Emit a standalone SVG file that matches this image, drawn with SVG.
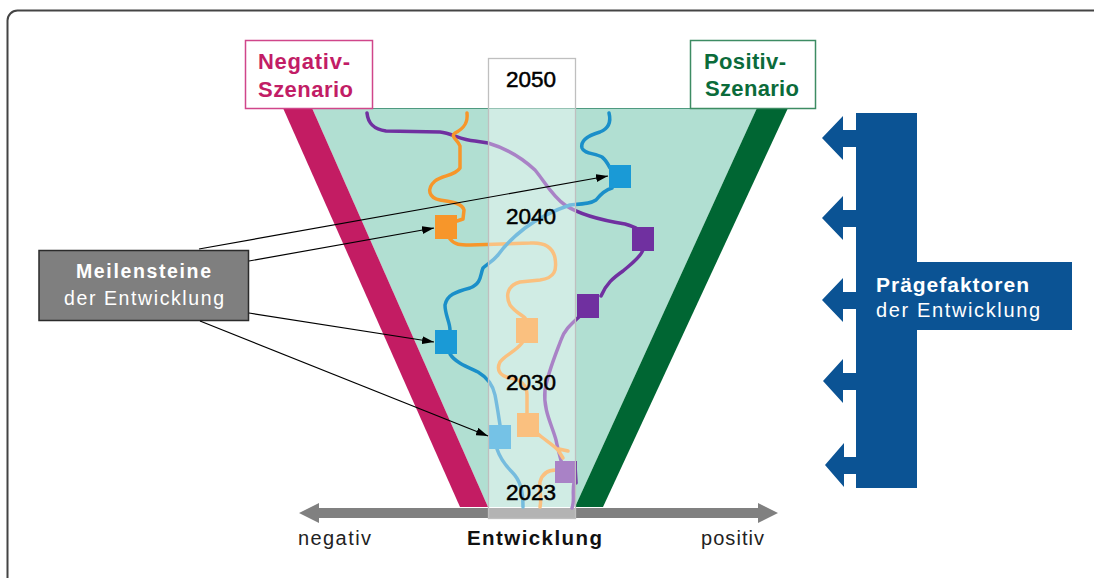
<svg xmlns="http://www.w3.org/2000/svg" width="1094" height="578" viewBox="0 0 1094 578">
<defs>
<marker id="ah" viewBox="0 0 12 8" refX="12" refY="4" markerWidth="12" markerHeight="8" markerUnits="userSpaceOnUse" orient="auto">
<path d="M0,0 L12,4 L0,8 Z" fill="#000"/>
</marker>
<style>
text{font-family:"Liberation Sans",Arial,sans-serif}
.path{fill:none;stroke-width:3.5;stroke-linejoin:round;stroke-linecap:round}
.pu{stroke:#7030a0}.or{stroke:#f7962a}.bl{stroke:#1a8fc9}
.yr{font-size:22.5px;fill:#000;stroke:#000;stroke-width:0.5;text-anchor:middle}
.conn{stroke:#000;stroke-width:1.2;fill:none;marker-end:url(#ah)}
.wb{font-weight:bold;fill:#fff;font-size:19.5px}
.wr{fill:#fff;font-size:19.5px}
.pa{fill:#0b5394}
</style>
</defs>
<rect width="1094" height="578" fill="#fff"/>
<rect x="7.5" y="10.5" width="1100" height="590" rx="10" fill="none" stroke="#444" stroke-width="2"/>

<g id="funnel">
<polygon points="312,108 757,108 575,507 488,507" fill="#b1dfd2"/>
<line x1="312" y1="108.5" x2="757" y2="108.5" stroke="#4f9a80" stroke-width="1.2"/>
<polygon points="283,108 312,108 488,507 460,507" fill="#c31c63"/>
<polygon points="757,108 788,108 603,507 575,507" fill="#006633"/>
</g>

<g id="axis">
<polygon points="299,513 319,503 319,508 758,508 758,503 778,513 758,523 758,518 319,518 319,523" fill="#808080"/>
<text x="298" y="545" font-size="20" fill="#222" textLength="73" lengthAdjust="spacing">negativ</text>
<text x="467" y="545" font-size="20.5" font-weight="bold" fill="#111" textLength="135" lengthAdjust="spacing">Entwicklung</text>
<text x="701" y="545" font-size="20" fill="#222" textLength="63" lengthAdjust="spacing">positiv</text>
</g>

<g id="paths">
<path class="path pu" d="M367,113 C368,123 373,129 386,131 L440,132 C452,133 460,140 475,141 L488,143 C505,148 520,156 535,170 C545,182 552,196 565,205 C580,215 600,220 625,224 C636,227 642,231 643,236"/>
<path class="path pu" d="M643,250 C640,258 631,264 623,271 C613,278 606,284 601,296"/>
<path class="path pu" d="M582,314 C574,322 565,328 561,340 C555,356 548,372 545,390 C543,410 552,425 556,440 C558,450 561,460 563,468"/>
<path class="path pu" d="M575,465 L576,483 M574,483 C572,492 575,500 572,508"/>
<path class="path or" d="M467,113 C468,122 465,128 455,133 C450,137 458,140 460,146 L460,168 C455,176 442,175 435,181 C426,189 429,198 440,200 C452,202 462,203 464,210 L463,219 L457,221"/>
<path class="path or" d="M450,239 C455,245 460,245 470,245 L530,243 C545,242 553,248 555,258 C557,270 555,278 540,280 L520,282 C508,285 505,295 510,305 C515,312 522,315 525,318"/>
<path class="path or" d="M522,343 C515,352 505,355 500,362 C496,370 500,376 510,378 C522,380 527,385 527,395 L527,413"/>
<path class="path or" d="M538,434 C545,440 552,444 558,450 L563,458 M559,449 L568,451"/>
<path class="path or" d="M556,470 C548,470 542,474 540,482 C539,490 542,498 540,507"/>
<path class="path bl" d="M609,113 C611,121 610,128 600,132 C590,135 580,140 582,148 C584,154 595,153 602,157 C606,160 608,164 610,168"/>
<path class="path bl" d="M612,188 C605,190 600,195 596,200 C590,204 582,204 570,205 C555,210 540,217 525,228 C512,238 505,245 498,255 C492,262 487,264 483,268 C480,275 482,283 470,288 C455,292 447,295 445,305 C445,315 450,322 450,330"/>
<path class="path bl" d="M450,354 C455,362 465,366 478,372 C488,378 493,385 495,395 C497,405 498,412 500,425"/>
<path class="path bl" d="M497,449 C500,458 505,465 512,472 C520,480 523,490 523,507"/>
</g>

<g id="milestones">
<rect x="609" y="165" width="22" height="23" fill="#1a9ad6"/>
<rect x="435" y="215" width="22" height="24" fill="#f7962a"/>
<rect x="632" y="227" width="22" height="24" fill="#7030a0"/>
<rect x="577" y="294" width="22" height="24" fill="#7030a0"/>
<rect x="435" y="330" width="22" height="24" fill="#1a9ad6"/>
<rect x="516" y="318" width="22" height="25" fill="#f7962a"/>
<rect x="517" y="413" width="22" height="24" fill="#f7962a"/>
<rect x="489" y="425" width="22" height="24" fill="#1a9ad6"/>
<rect x="555" y="461" width="22" height="22" fill="#7030a0"/>
</g>

<g id="timeline">
<rect x="488.5" y="58.5" width="87" height="460" fill="#fff" fill-opacity="0.4" stroke="#bfbfbf" stroke-width="1.3"/>
<text class="yr" x="531" y="87">2050</text>
<text class="yr" x="531" y="224">2040</text>
<text class="yr" x="531" y="390">2030</text>
<text class="yr" x="531" y="500">2023</text>
</g>

<g id="negativ-szenario">
<rect x="245.5" y="40.5" width="127" height="68" fill="#fff" stroke="#d0468a" stroke-width="1.5"/>
<text x="258" y="69" font-size="22" font-weight="bold" fill="#c21d66" textLength="92" lengthAdjust="spacing">Negativ-</text>
<text x="258" y="97" font-size="22" font-weight="bold" fill="#c21d66" textLength="95" lengthAdjust="spacing">Szenario</text>
</g>

<g id="positiv-szenario">
<rect x="690.5" y="40.5" width="125" height="68" fill="#fff" stroke="#3d8c63" stroke-width="1.5"/>
<text x="704" y="69" font-size="22" font-weight="bold" fill="#0b6b3a" textLength="82" lengthAdjust="spacing">Positiv-</text>
<text x="705" y="96" font-size="22" font-weight="bold" fill="#0b6b3a" textLength="94" lengthAdjust="spacing">Szenario</text>
</g>

<g id="meilensteine">
<rect x="39" y="250.5" width="209.5" height="70" fill="#7f7f7f" stroke="#2b2b2b" stroke-width="1.5"/>
<text class="wb" x="76" y="278" textLength="135" lengthAdjust="spacing">Meilensteine</text>
<text class="wr" x="64" y="305" textLength="160" lengthAdjust="spacing">der Entwicklung</text>
</g>

<g id="connectors">
<line class="conn" x1="199" y1="249" x2="608" y2="176"/>
<line class="conn" x1="249" y1="261" x2="434" y2="228"/>
<line class="conn" x1="249" y1="313" x2="434" y2="342"/>
<line class="conn" x1="200" y1="321" x2="488" y2="436"/>
</g>

<g id="praegefaktoren">
<rect class="pa" x="856" y="113" width="61" height="375"/>
<rect class="pa" x="916" y="262" width="156" height="68"/>
<polygon class="pa" points="856,130 843,130 843,116 822,138 843,160 843,147 856,147"/>
<polygon class="pa" points="856,210 843,210 843,196 822,218 843,240 843,227 856,227"/>
<polygon class="pa" points="856,292 843,292 843,278 822,300 843,322 843,309 856,309"/>
<polygon class="pa" points="856,373 843,373 843,359 823,381 843,403 843,390 856,390"/>
<polygon class="pa" points="856,457 844,457 844,443 825,465 844,487 844,474 856,474"/>
<text x="876" y="292" font-size="21" font-weight="bold" fill="#fff" textLength="153" lengthAdjust="spacing">Prägefaktoren</text>
<text x="876" y="317" font-size="20" fill="#fff" textLength="164" lengthAdjust="spacing">der Entwicklung</text>
</g>
</svg>
